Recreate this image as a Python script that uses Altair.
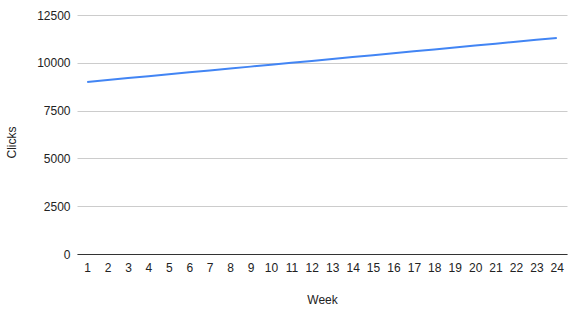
import altair as alt
import pandas as pd

weeks = list(range(1, 25))
clicks = [9000, 9100, 9200, 9300, 9400, 9500, 9600, 9700, 9800, 9900, 10000, 10100,
          10200, 10300, 10400, 10500, 10600, 10700, 10800, 10900, 11000, 11100, 11200, 11300]
y_ticks = [0, 2500, 5000, 7500, 10000, 12500]

df = pd.DataFrame({"Week": weeks, "Clicks": clicks})

font = "Liberation Sans"

chart = alt.Chart(df).mark_line(color="#4285F4", strokeWidth=2).encode(
    x=alt.X("Week:O", sort=weeks,
            scale=alt.Scale(type="point", padding=0.5),
            axis=alt.Axis(title="Week", labelAngle=0, ticks=False, domain=True,
                          domainColor="#333333", domainWidth=1, grid=False,
                          labelPadding=8, labelFont=font, labelFontSize=12,
                          labelColor="#222222", titleFont=font, titleFontSize=12,
                          titleFontWeight="normal", titleColor="#222222",
                          titlePadding=21)),
    y=alt.Y("Clicks:Q", scale=alt.Scale(domain=[0, 12500], nice=False),
            axis=alt.Axis(title="Clicks", values=y_ticks, format="d", ticks=False,
                          domain=False, grid=True, gridColor="#cccccc", labelPadding=7,
                          labelFont=font, labelFontSize=12, labelColor="#222222",
                          titleFont=font, titleFontSize=12, titleFontWeight="normal",
                          titleColor="#222222", titleX=-62, titleY=127,
                          titleAlign="center", titleBaseline="alphabetic")),
).properties(
    width=490, height=239,
    padding={"left": 77, "top": 15, "right": 18, "bottom": 59},
    autosize=alt.AutoSizeParams(type="none"),
    background="white",
).configure_view(strokeWidth=0, stroke="transparent")

chart.save("out.html", embed_options={"renderer": "svg", "actions": False})
